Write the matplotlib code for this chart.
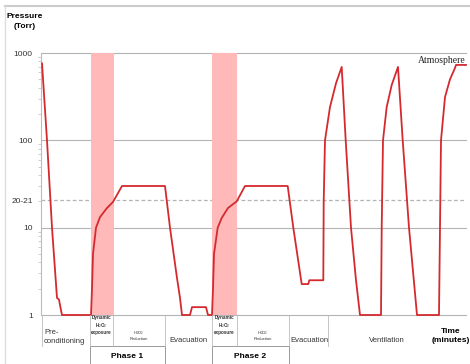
import matplotlib
matplotlib.use('Agg')
import matplotlib.pyplot as plt
from matplotlib.patches import Rectangle
from matplotlib.lines import Line2D

plt.rcParams['font.family'] = ['Liberation Sans', 'DejaVu Sans']
plt.rcParams['mathtext.fontset'] = 'custom'
plt.rcParams['mathtext.rm'] = 'Liberation Sans'
plt.rcParams['mathtext.bf'] = 'Liberation Sans:bold'

# 时间（任意单位，分钟）与压力（Torr）
time = [1, 6, 11, 16, 18, 19, 21, 49,
        50, 51, 52, 55, 59, 66, 72, 81, 124, 129, 136, 139, 141, 149,
        151, 165, 167, 171,
        172, 173, 176.7, 180.7, 187, 195.7, 204, 246.7, 252.3, 260.7, 267.3, 268.3, 282.3,
        282.7, 284, 289, 295, 300.7, 304.7, 310, 315, 319, 340,
        340.7, 342, 345.7, 350.7, 357, 361.7, 368, 376, 398,
        399, 400, 404, 409, 414, 415, 425]
pressure = [760, 100, 10, 1.57, 1.5, 1.3, 1.0, 1.0,
            1.0, 2, 5, 10, 13.2, 16.8, 19.7, 30, 30, 10, 2.65, 1.57, 1.0, 1.0,
            1.23, 1.23, 1.0, 1.0,
            2, 5, 10, 12.9, 16.8, 20, 30, 30, 10, 2.26, 2.26, 2.5, 2.5,
            20, 100, 241, 450, 692, 100, 10, 2.5, 1.0, 1.0,
            10, 100, 241, 430, 692, 100, 10, 1.0, 1.0,
            10, 100, 313, 500, 674, 730, 730]

# 暴露阶段（粉色区域）
exposure_spans = [(50, 73), (171, 196)]

y_ticks = [1, 10, 20.5, 100, 1000]
y_labels = ['1', '10', '20-21', '100', '1000']

# 底部阶段表格
cell_edges = [1, 49, 72, 124, 171, 196, 248, 287]
cell_labels = [
    (3, 'Pre-\nconditioning', 'left', 5.5, 'normal'),
    (60.5, 'Dynamic\nH$_2$O$_2$\nexposure', 'center', 3.3, 'bold'),
    (98, 'H$_2$O$_2$\nReduction', 'center', 3.0, 'normal'),
    (147, 'Evacuation', 'center', 5.5, 'normal'),
    (183.5, 'Dynamic\nH$_2$O$_2$\nexposure', 'center', 3.3, 'bold'),
    (222, 'H$_2$O$_2$\nReduction', 'center', 3.0, 'normal'),
    (268, 'Evacuation', 'center', 5.5, 'normal'),
    (346, 'Ventilation', 'center', 5.5, 'normal'),
]
phases = [('Phase 1', 49, 124), ('Phase 2', 171, 248)]

W, H = 470, 364
fig = plt.figure(figsize=(W / 100, H / 100), dpi=100)
ax = fig.add_axes([41 / W, (H - 315) / H, 425 / W, (315 - 53) / H])

line_color = '#d42a2f'
grid_color = '#b4b4b4'

for x0, x1 in exposure_spans:
    ax.axvspan(x0, x1, color='#ffb9b9', lw=0, zorder=1)

for yv in [1, 10, 100, 1000]:
    ax.axhline(yv, color=grid_color, lw=0.8, zorder=0, clip_on=False)
ax.axhline(20.5, color=grid_color, lw=0.9, ls=(0, (3, 2)), zorder=0)

ax.plot(time, pressure, color=line_color, lw=1.3, zorder=3, clip_on=False)

ax.set_yscale('log')
ax.set_ylim(1, 1000)
ax.set_xlim(0, 425)
ax.set_yticks(y_ticks)
ax.set_yticklabels(y_labels, fontsize=6)
ax.tick_params(axis='y', which='major', length=0, pad=6, colors='#333333')
ax.tick_params(axis='y', which='minor', length=2, width=0.5, color='#bbbbbb')
ax.set_xticks([])
for s in ['top', 'right', 'bottom']:
    ax.spines[s].set_visible(False)
ax.spines['left'].set_color('#bbbbbb')
ax.spines['left'].set_linewidth(0.8)

ax.text(425, 1000 * 0.83, 'Atmosphere', ha='right', va='center', fontsize=7,
        family=['Liberation Serif'], color='#222222')

# 图形像素坐标中的标注
def px(x, y):
    return x / W, 1 - y / H

def data_px(t):
    return 41 + t

fig.text(*px(25, 21), 'Pressure\n(Torr)', ha='center', va='center', fontsize=6,
         fontweight='bold', linespacing=1.6)

# 表格竖线
lines_x = [1] + cell_edges[1:] + [287]
for t in cell_edges:
    xp = data_px(t)
    fig.add_artist(Line2D([xp / W, xp / W], [1 - 315 / H, 1 - 346 / H],
                          color='#bbbbbb', lw=0.6))

for t, label, ha, fs, fw in cell_labels:
    xp = data_px(t)
    if fs < 4:
        yp = 325 if fw == 'bold' else 335
    else:
        yp = 337 if '\n' in label else 340
    fig.text(*px(xp, yp), label, ha=ha, va='center', fontsize=fs, fontweight=fw,
             linespacing=1.3 if fs > 4 else 1.15, color='#333333')

fig.text(*px(451, 336), 'Time\n(minutes)', ha='center', va='center', fontsize=6,
         fontweight='bold', linespacing=1.4)

for name, t0, t1 in phases:
    x0, x1 = data_px(t0), data_px(t1)
    fig.add_artist(Rectangle((x0 / W, 0), (x1 - x0) / W, (H - 346) / H,
                             transform=fig.transFigure, fill=False,
                             edgecolor='#999999', lw=0.7))
    fig.text(*px((x0 + x1) / 2, 356), name, ha='center', va='center', fontsize=6,
             fontweight='bold')

# 外框
fig.add_artist(Line2D([5 / W, 1], [1 - 6 / H, 1 - 6 / H], color='#cccccc', lw=1.5))
fig.add_artist(Line2D([5 / W, 5 / W], [0, 1 - 6 / H], color='#dddddd', lw=1.0))

fig.savefig('out.png', dpi=100)
